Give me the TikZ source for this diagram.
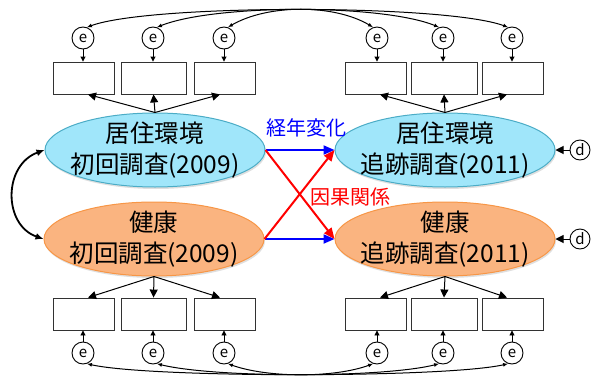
\documentclass[tikz,border=0pt]{standalone}
\usepackage{fontspec}
\setmainfont{Noto Sans CJK JP}
\usetikzlibrary{shapes.geometric,arrows.meta,shadows}
\definecolor{cyanfill}{RGB}{160,230,250}
\definecolor{cyanline}{RGB}{75,172,198}
\definecolor{orgfill}{RGB}{250,180,128}
\definecolor{orgline}{RGB}{247,150,70}
\definecolor{boxline}{RGB}{50,50,50}
\tikzset{
  lat/.style={ellipse,minimum width=220pt,minimum height=74pt,inner xsep=-25pt,inner ysep=-12pt,align=center,
    font=\fontsize{24.5}{31}\selectfont,line width=1pt,
    drop shadow={opacity=0.25,shadow xshift=1pt,shadow yshift=-2pt}},
  env/.style={lat,fill=cyanfill,draw=cyanline},
  hlth/.style={lat,fill=orgfill,draw=orgline},
  ind/.style={draw=boxline,line width=0.9pt,minimum height=32pt,inner sep=0pt},
  err/.style={circle,draw,line width=0.9pt,minimum size=22pt,inner sep=0pt,font=\fontsize{15}{15}\selectfont},
  load/.style={line width=1pt,-{Triangle[length=8pt,width=8pt]}},
  small/.style={line width=0.9pt,-{Triangle[length=5pt,width=5pt]}},
  cov/.style={line width=1pt,{Latex[length=5pt,width=4pt]}-{Latex[length=5pt,width=4pt]}},
  bigcov/.style={line width=1.8pt,{Latex[length=8pt,width=7pt]}-{Latex[length=8pt,width=7pt]}},
  path1/.style={line width=2pt,-{Triangle[length=11pt,width=9pt]}},
  lbl/.style={font=\fontsize{20}{20}\selectfont,inner sep=0pt}
}
\begin{document}
\begin{tikzpicture}[x=1pt,y=-1pt]
\useasboundingbox (0,0) rectangle (598,378);
% latent ellipses
\node[env]  (tl) at (155,150) {居住環境\\初回調査(2009)};
\node[hlth] (bl) at (154,239) {健康\\初回調査(2009)};
\node[env]  (tr) at (445,150) {居住環境\\追跡調査(2011)};
\node[hlth] (br) at (445,239) {健康\\追跡調査(2011)};
% top indicator boxes
\node[ind,minimum width=61pt] (tb1) at (83.5,78) {};
\node[ind,minimum width=65pt] (tb2) at (153.5,78) {};
\node[ind,minimum width=61pt] (tb3) at (224.5,78) {};
\node[ind,minimum width=61pt] (tb4) at (375.5,78) {};
\node[ind,minimum width=66pt] (tb5) at (444,78) {};
\node[ind,minimum width=61pt] (tb6) at (512.5,78) {};
% bottom indicator boxes
\node[ind,minimum width=61pt] (bb1) at (83.5,314) {};
\node[ind,minimum width=65pt] (bb2) at (153.5,314) {};
\node[ind,minimum width=61pt] (bb3) at (224.5,314) {};
\node[ind,minimum width=61pt] (bb4) at (375.5,314) {};
\node[ind,minimum width=66pt] (bb5) at (444,314) {};
\node[ind,minimum width=61pt] (bb6) at (512.5,314) {};
% errors top
\node[err] (te1) at (83,38) {e};
\node[err] (te2) at (153,38) {e};
\node[err] (te3) at (224,38) {e};
\node[err] (te4) at (377,38) {e};
\node[err] (te5) at (443,38) {e};
\node[err] (te6) at (512,38) {e};
% errors bottom
\node[err] (be1) at (83,353) {e};
\node[err] (be2) at (153,353) {e};
\node[err] (be3) at (224,353) {e};
\node[err] (be4) at (377,353) {e};
\node[err] (be5) at (443,353) {e};
\node[err] (be6) at (512,353) {e};
% disturbances
\node[err,minimum size=20pt] (d1) at (580,150) {d};
\node[err,minimum size=20pt] (d2) at (580,239) {d};
% loadings top
\draw[load] (tl.north) -- ([xshift=4.5pt]tb1.south);
\draw[load] (tl.north) -- (tb2.south);
\draw[load] (tl.north) -- ([xshift=-4.5pt]tb3.south);
\draw[load] (tr.north) -- ([xshift=4.5pt]tb4.south);
\draw[load] (tr.north) -- (tb5.south);
\draw[load] (tr.north) -- ([xshift=-5.5pt]tb6.south);
% loadings bottom
\draw[load] (bl.south) -- ([xshift=4.5pt]bb1.north);
\draw[load] (bl.south) -- (bb2.north);
\draw[load] (bl.south) -- ([xshift=-4.5pt]bb3.north);
\draw[load] (br.south) -- ([xshift=4.5pt]bb4.north);
\draw[load] (br.south) -- (bb5.north);
\draw[load] (br.south) -- ([xshift=-5.5pt]bb6.north);
% error arrows
\foreach \i in {1,...,6}{
  \draw[small] (te\i.south) -- (tb\i.north -| te\i);
  \draw[small] (be\i.north) -- (bb\i.south -| be\i);
}
% disturbance arrows
\draw[load] (d1.west) -- (tr.east);
\draw[load] (d2.west) -- (br.east);
% structural paths
\draw[path1,blue] (tl.east) -- (tr.west);
\draw[path1,blue] (bl.east) -- (br.west);
\draw[path1,red] (tl.east) -- (br.west);
\draw[path1,red] (bl.east) -- (tr.west);
\node[lbl,text=blue] (l1) at (306,128) {経年変化};
\node[lbl,text=red] (l2) at (350,197) {因果関係};
% covariance left
\draw[bigcov] (tl.west) .. controls (3,165) and (3,225) .. (bl.west);
% error covariances top
\draw[cov] (te1.70) .. controls (150,4) and (445,4) .. (te6.110);
\draw[cov] (te2.70) .. controls (215,4) and (382,4) .. (te5.110);
\draw[cov] (te3.70) .. controls (268,4) and (334,4) .. (te4.110);
% error covariances bottom
\draw[cov] (be1.-70) .. controls (150,378) and (445,378) .. (be6.-110);
\draw[cov] (be2.-70) .. controls (215,378) and (382,378) .. (be5.-110);
\draw[cov] (be3.-70) .. controls (268,378) and (334,378) .. (be4.-110);
\end{tikzpicture}
\end{document}
